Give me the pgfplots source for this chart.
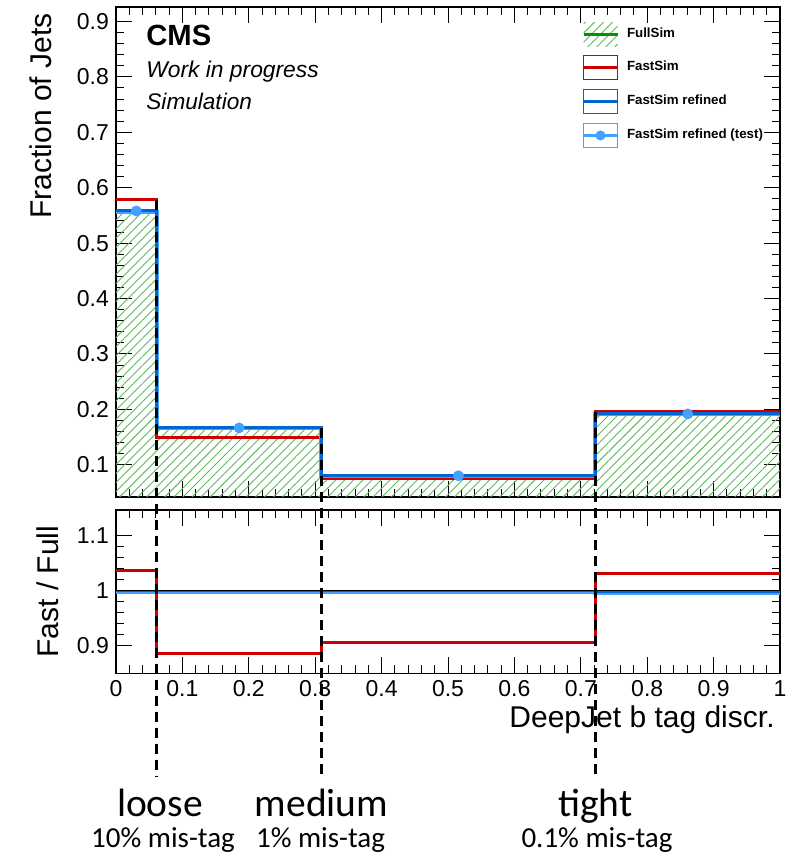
\documentclass[border=0pt]{standalone}
\usepackage{pgfplots}
\pgfplotsset{compat=1.18}
\usepackage{fontspec}
\setmainfont{Liberation Sans}
\newfontfamily\annfont{Carlito}
\usetikzlibrary{patterns.meta}

\definecolor{rootred}{RGB}{204,0,0}
\definecolor{rootblue}{RGB}{0,102,210}
\definecolor{lightblue}{RGB}{70,160,255}
\definecolor{fullgreen}{RGB}{0,150,0}
\definecolor{hatchgreen}{RGB}{90,185,90}

\begin{document}
\begin{tikzpicture}
\useasboundingbox (0,0) rectangle (395.5pt,-430.5pt);
\pgfplotsset{
  rootstyle/.style={
    scale only axis, width=332pt, xmin=0, xmax=1,
    tick align=inside, major tick length=8pt, minor tick length=4pt,
    xtick={0,0.1,0.2,0.3,0.4,0.5,0.6,0.7,0.8,0.9,1},
    minor x tick num=4, minor y tick num=4,
    tick style={black, line width=0.5pt},
    axis line style={black, line width=0.6pt},
    ticklabel style={font=\fontsize{11.5}{13}\selectfont},
    /pgf/number format/assume math mode=true,
    clip=false,
  }
}
% ---------------- upper panel ----------------
\begin{axis}[rootstyle, at={(58pt,-3.5pt)}, anchor=north west, height=245pt,
  ymin=0.042, ymax=0.926,
  ytick={0.1,0.2,0.3,0.4,0.5,0.6,0.7,0.8,0.9},
  yticklabel style={/pgf/number format/.cd, fixed, fixed zerofill, precision=1},
  xticklabel=\empty,
  ylabel={Fraction of Jets},
  ylabel style={at={(rel axis cs:-0.113,0.988)}, anchor=east, inner sep=0pt, font=\fontsize{15}{18}\selectfont},
  legend cell align=left,
  legend style={at={(rel axis cs:0.7018,0.969)}, anchor=north west, draw=none, fill=none,
    inner sep=0pt, outer sep=0pt, row sep=4.3pt, column sep=4pt,
    font=\fontsize{6.65}{8}\selectfont\bfseries, nodes={inner sep=0pt}},
]
% FullSim hatched area
\addplot[draw=none, const plot, forget plot,
  pattern={Lines[angle=45,distance=3.2pt,line width=0.45pt]}, pattern color=hatchgreen]
  coordinates {(0,0.042) (0,0.558) (0.0614,0.166) (0.3093,0.0805) (0.7221,0.190) (1,0.190) (1,0.042)};
% FullSim line
\addplot[draw=fullgreen, line width=1.2pt, const plot,
  legend image code/.code={
    \path[draw=none, pattern={Lines[angle=45,distance=3.2pt,line width=0.45pt]}, pattern color=hatchgreen] (0pt,-6pt) rectangle (17pt,6pt);
    \path[draw=fullgreen, line width=1.5pt] (0pt,0pt) -- (17pt,0pt);}]
  coordinates {(0,0.558) (0.0614,0.166) (0.3093,0.0805) (0.7221,0.190) (1,0.190)};
\addlegendentry{FullSim}
% FastSim
\addplot[rootred, line width=1.5pt, const plot,
  legend image code/.code={
    \draw[rootred, line width=0.7pt] (0pt,-6pt) rectangle (17pt,6pt);
    \draw[rootred, line width=1.5pt] (0pt,0pt) -- (17pt,0pt);}]
  coordinates {(0,0.5793) (0.0614,0.1486) (0.3093,0.0745) (0.7221,0.1955) (1,0.1955)};
\addlegendentry{FastSim}
% FastSim refined (test) line under refined
\addplot[lightblue, line width=2pt, const plot, forget plot]
  coordinates {(0,0.557) (0.0614,0.1665) (0.3093,0.0801) (0.7221,0.1917) (1,0.1917)};
% FastSim refined
\addplot[rootblue, line width=1.5pt, const plot,
  legend image code/.code={
    \draw[rootblue, line width=0.7pt] (0pt,-6pt) rectangle (17pt,6pt);
    \draw[rootblue, line width=1.5pt] (0pt,0pt) -- (17pt,0pt);}]
  coordinates {(0,0.558) (0.0614,0.1667) (0.3093,0.0803) (0.7221,0.1919) (1,0.1919)};
\addlegendentry{FastSim refined}
% FastSim refined (test) markers
\addplot[only marks, mark=*, mark size=2.5pt, color=lightblue,
  legend image code/.code={
    \draw[lightblue, line width=0.7pt] (0pt,-6pt) rectangle (17pt,6pt);
    \draw[lightblue, line width=1.5pt] (0pt,0pt) -- (17pt,0pt);
    \fill[lightblue] (8.5pt,0pt) circle (2.3pt);}]
  coordinates {(0.0307,0.558) (0.1854,0.1667) (0.5157,0.0803) (0.8611,0.1919)};
\addlegendentry{FastSim refined (test)}
% CMS labels
\node[anchor=base west, inner sep=0pt, font=\fontsize{14.6}{17}\selectfont\bfseries] at (rel axis cs:0.0452,0.9224) {CMS};
\node[anchor=base west, inner sep=0pt, font=\fontsize{11.4}{13}\selectfont\itshape] at (rel axis cs:0.0452,0.8551) {Work in progress};
\node[anchor=base west, inner sep=0pt, font=\fontsize{11.3}{13}\selectfont\itshape] at (rel axis cs:0.0452,0.7898) {Simulation};
\end{axis}
% ---------------- ratio panel ----------------
\begin{axis}[rootstyle, at={(58pt,-255pt)}, anchor=north west, height=81.6pt,
  ymin=0.85, ymax=1.147,
  ytick={0.9,1,1.1},
  ylabel={Fast / Full},
  ylabel style={at={(rel axis cs:-0.1024,0.5)}, anchor=center, inner sep=0pt, font=\fontsize{15}{18}\selectfont},
  xlabel={DeepJet b tag discr.},
  xlabel style={at={(rel axis cs:0.9925,-0.331)}, anchor=base east, inner sep=0pt, font=\fontsize{15}{18}\selectfont},
]
\addplot[rootred, line width=1.5pt, const plot]
  coordinates {(0,1.036) (0.0614,0.886) (0.3093,0.906) (0.7221,1.032) (1,1.032)};
\addplot[lightblue, line width=2pt, const plot]
  coordinates {(0,0.9975) (0.0614,0.998) (0.3093,0.998) (0.7221,0.9965) (1,0.9965)};
\addplot[rootblue, line width=1.2pt, const plot]
  coordinates {(0,0.9993) (0.0614,0.9995) (0.3093,0.9995) (0.7221,0.999) (1,0.999)};
\addplot[black, line width=0.5pt]
  coordinates {(0,1) (1,1)};
% working point lines
\addplot[black, line width=1.7pt, dash pattern=on 5pt off 3pt]
  coordinates {(0.0614,1.712) (0.0614,0.6633)};
\addplot[black, line width=1.7pt, dash pattern=on 5pt off 3pt]
  coordinates {(0.3093,1.296) (0.3093,0.6633)};
\addplot[black, line width=1.7pt, dash pattern=on 5pt off 3pt]
  coordinates {(0.7221,1.325) (0.7221,0.6633)};
% working point annotations
\node[anchor=base, inner sep=0pt, font=\annfont\fontsize{19.75}{22}\selectfont] at (axis cs:0.0663,0.5887) {loose};
\node[anchor=base, inner sep=0pt, font=\annfont\fontsize{19.75}{22}\selectfont] at (axis cs:0.3095,0.5887) {medium};
\node[anchor=base, inner sep=0pt, font=\annfont\fontsize{19.75}{22}\selectfont] at (axis cs:0.7221,0.5887) {tight};
\node[anchor=base, inner sep=0pt, font=\annfont\fontsize{14.5}{17}\selectfont] at (axis cs:0.0708,0.5324) {10\% mis-tag};
\node[anchor=base, inner sep=0pt, font=\annfont\fontsize{14.5}{17}\selectfont] at (axis cs:0.308,0.5324) {1\% mis-tag};
\node[anchor=base, inner sep=0pt, font=\annfont\fontsize{14.5}{17}\selectfont] at (axis cs:0.7244,0.5324) {0.1\% mis-tag};
\end{axis}
\end{tikzpicture}
\end{document}
